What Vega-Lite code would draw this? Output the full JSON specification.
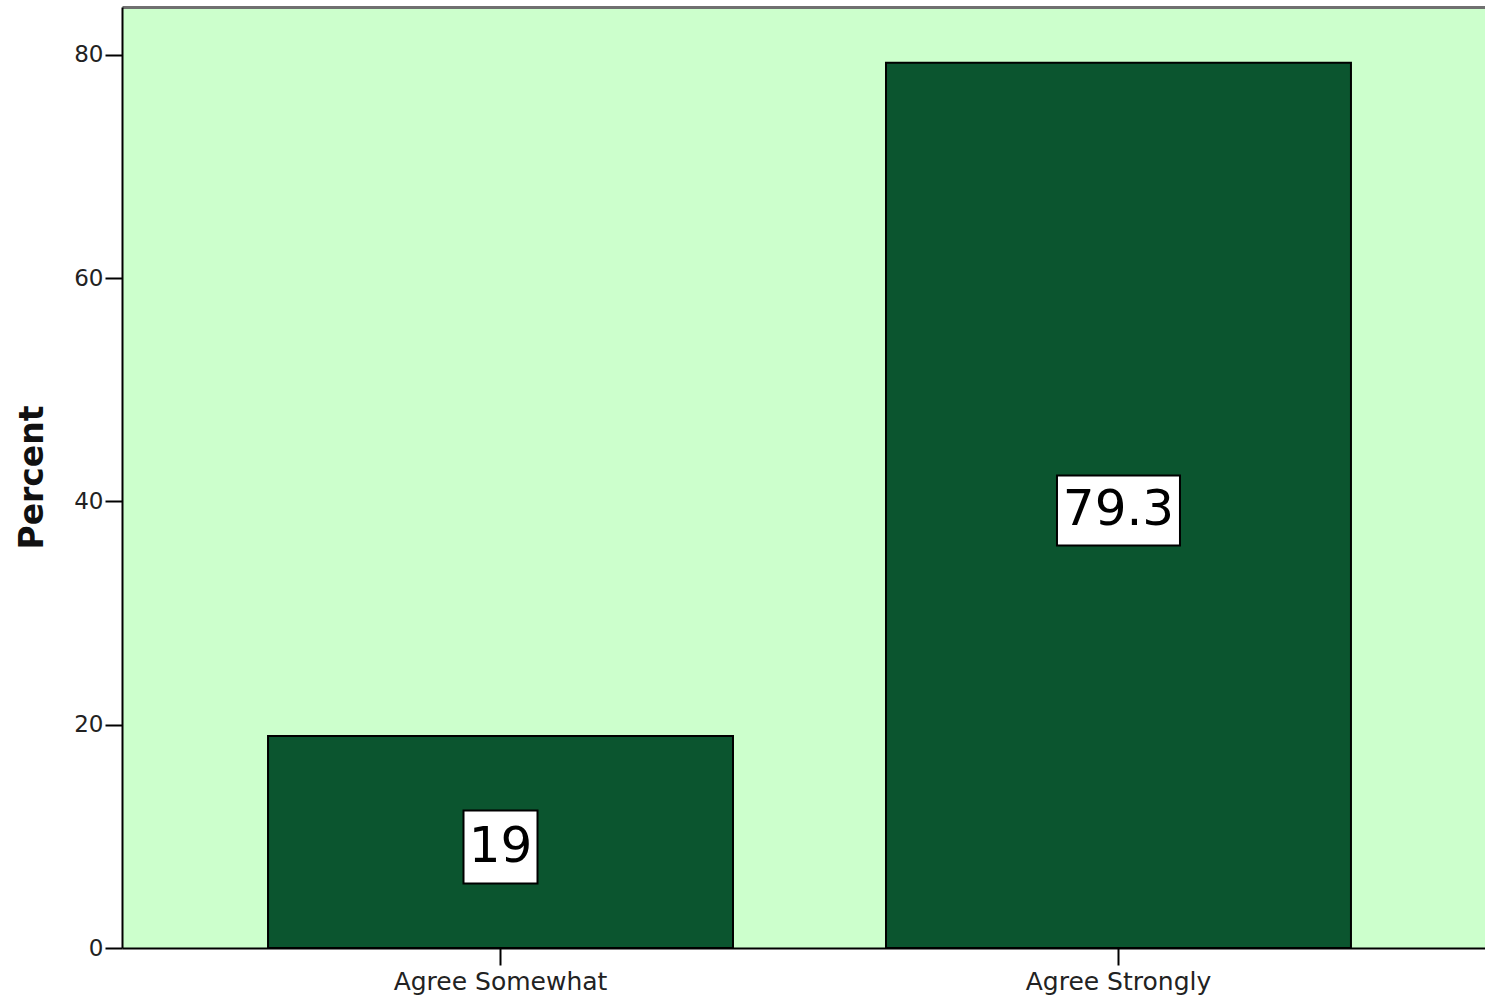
{
  "$schema": "https://vega.github.io/schema/vega-lite/v6.json",
  "width": 1363,
  "height": 941,
  "autosize": "none",
  "padding": {"left": 122, "top": 7, "right": 0, "bottom": 50},
  "background": "white",
  "config": {
    "view": {"fill": "#ccffcc", "stroke": null},
    "font": "DejaVu Sans",
    "axisY": {"titleFontSize": 33, "titleFontWeight": "bold", "titleColor": "#111111", "titleAngle": 270, "titleX": -90, "titleY": 470, "titleAlign": "center", "titleBaseline": "middle", "grid": false, "domainColor": "#000000", "domainWidth": 2, "tickColor": "#000000", "tickWidth": 2, "tickSize": 17, "labelFontSize": 23, "labelColor": "#222222", "labelPadding": 2}
  },
  "data": {"values": [
    {"response": "Agree Somewhat", "percent": 19, "label": "19"},
    {"response": "Agree Strongly", "percent": 79.3, "label": "79.3"}
  ]},
  "transform": [{"calculate": "datum.percent / 2", "as": "mid"}],
  "resolve": {"axis": {"x": "independent"}},
  "layer": [
    {
      "mark": {"type": "bar", "fill": "#0b552f", "stroke": "#000000", "strokeWidth": 2},
      "encoding": {
        "x": {"field": "response", "type": "nominal", "sort": null,
          "scale": {"paddingInner": 0.2476, "paddingOuter": 0.2266, "align": 0.5214},
          "axis": {"title": null, "labelAngle": 0, "labelLimit": 0, "domainColor": "#000000", "domainWidth": 2, "tickColor": "#000000", "tickWidth": 2, "tickSize": 17, "labelFontSize": 25, "labelColor": "#222222", "labelPadding": 4}},
        "y": {"field": "percent", "type": "quantitative",
          "scale": {"domain": [0, 84.3], "nice": false, "zero": true},
          "axis": {"title": "Percent", "values": [0, 20, 40, 60, 80]}}
      }
    },
    {
      "transform": [{"filter": "datum.label == '19'"}],
      "mark": {"type": "point", "shape": "M-1,-0.986L1,-0.986L1,0.986L-1,0.986Z", "size": 5476, "filled": true, "fill": "#ffffff", "stroke": "#000000", "strokeWidth": 2, "opacity": 1, "yOffset": 5},
      "encoding": {
        "x": {"field": "response", "type": "nominal", "sort": null, "axis": null},
        "y": {"field": "mid", "type": "quantitative", "scale": {"domain": [0, 84.3], "nice": false}, "axis": {"title": "Percent", "values": [0, 20, 40, 60, 80]}}
      }
    },
    {
      "transform": [{"filter": "datum.label == '79.3'"}],
      "mark": {"type": "point", "shape": "M-1,-0.569L1,-0.569L1,0.569L-1,0.569Z", "size": 15129, "filled": true, "fill": "#ffffff", "stroke": "#000000", "strokeWidth": 2, "opacity": 1, "yOffset": 5},
      "encoding": {
        "x": {"field": "response", "type": "nominal", "sort": null, "axis": null},
        "y": {"field": "mid", "type": "quantitative", "scale": {"domain": [0, 84.3], "nice": false}, "axis": {"title": "Percent", "values": [0, 20, 40, 60, 80]}}
      }
    },
    {
      "mark": {"type": "text", "fontSize": 50, "color": "#000000", "yOffset": 5, "baseline": "middle", "align": "center"},
      "encoding": {
        "x": {"field": "response", "type": "nominal", "sort": null,
          "axis": {"orient": "top", "title": null, "labels": false, "ticks": false, "domainColor": "#707070", "domainWidth": 3}},
        "y": {"field": "mid", "type": "quantitative", "scale": {"domain": [0, 84.3], "nice": false}, "axis": {"title": "Percent", "values": [0, 20, 40, 60, 80]}},
        "text": {"field": "label"}
      }
    }
  ]
}
